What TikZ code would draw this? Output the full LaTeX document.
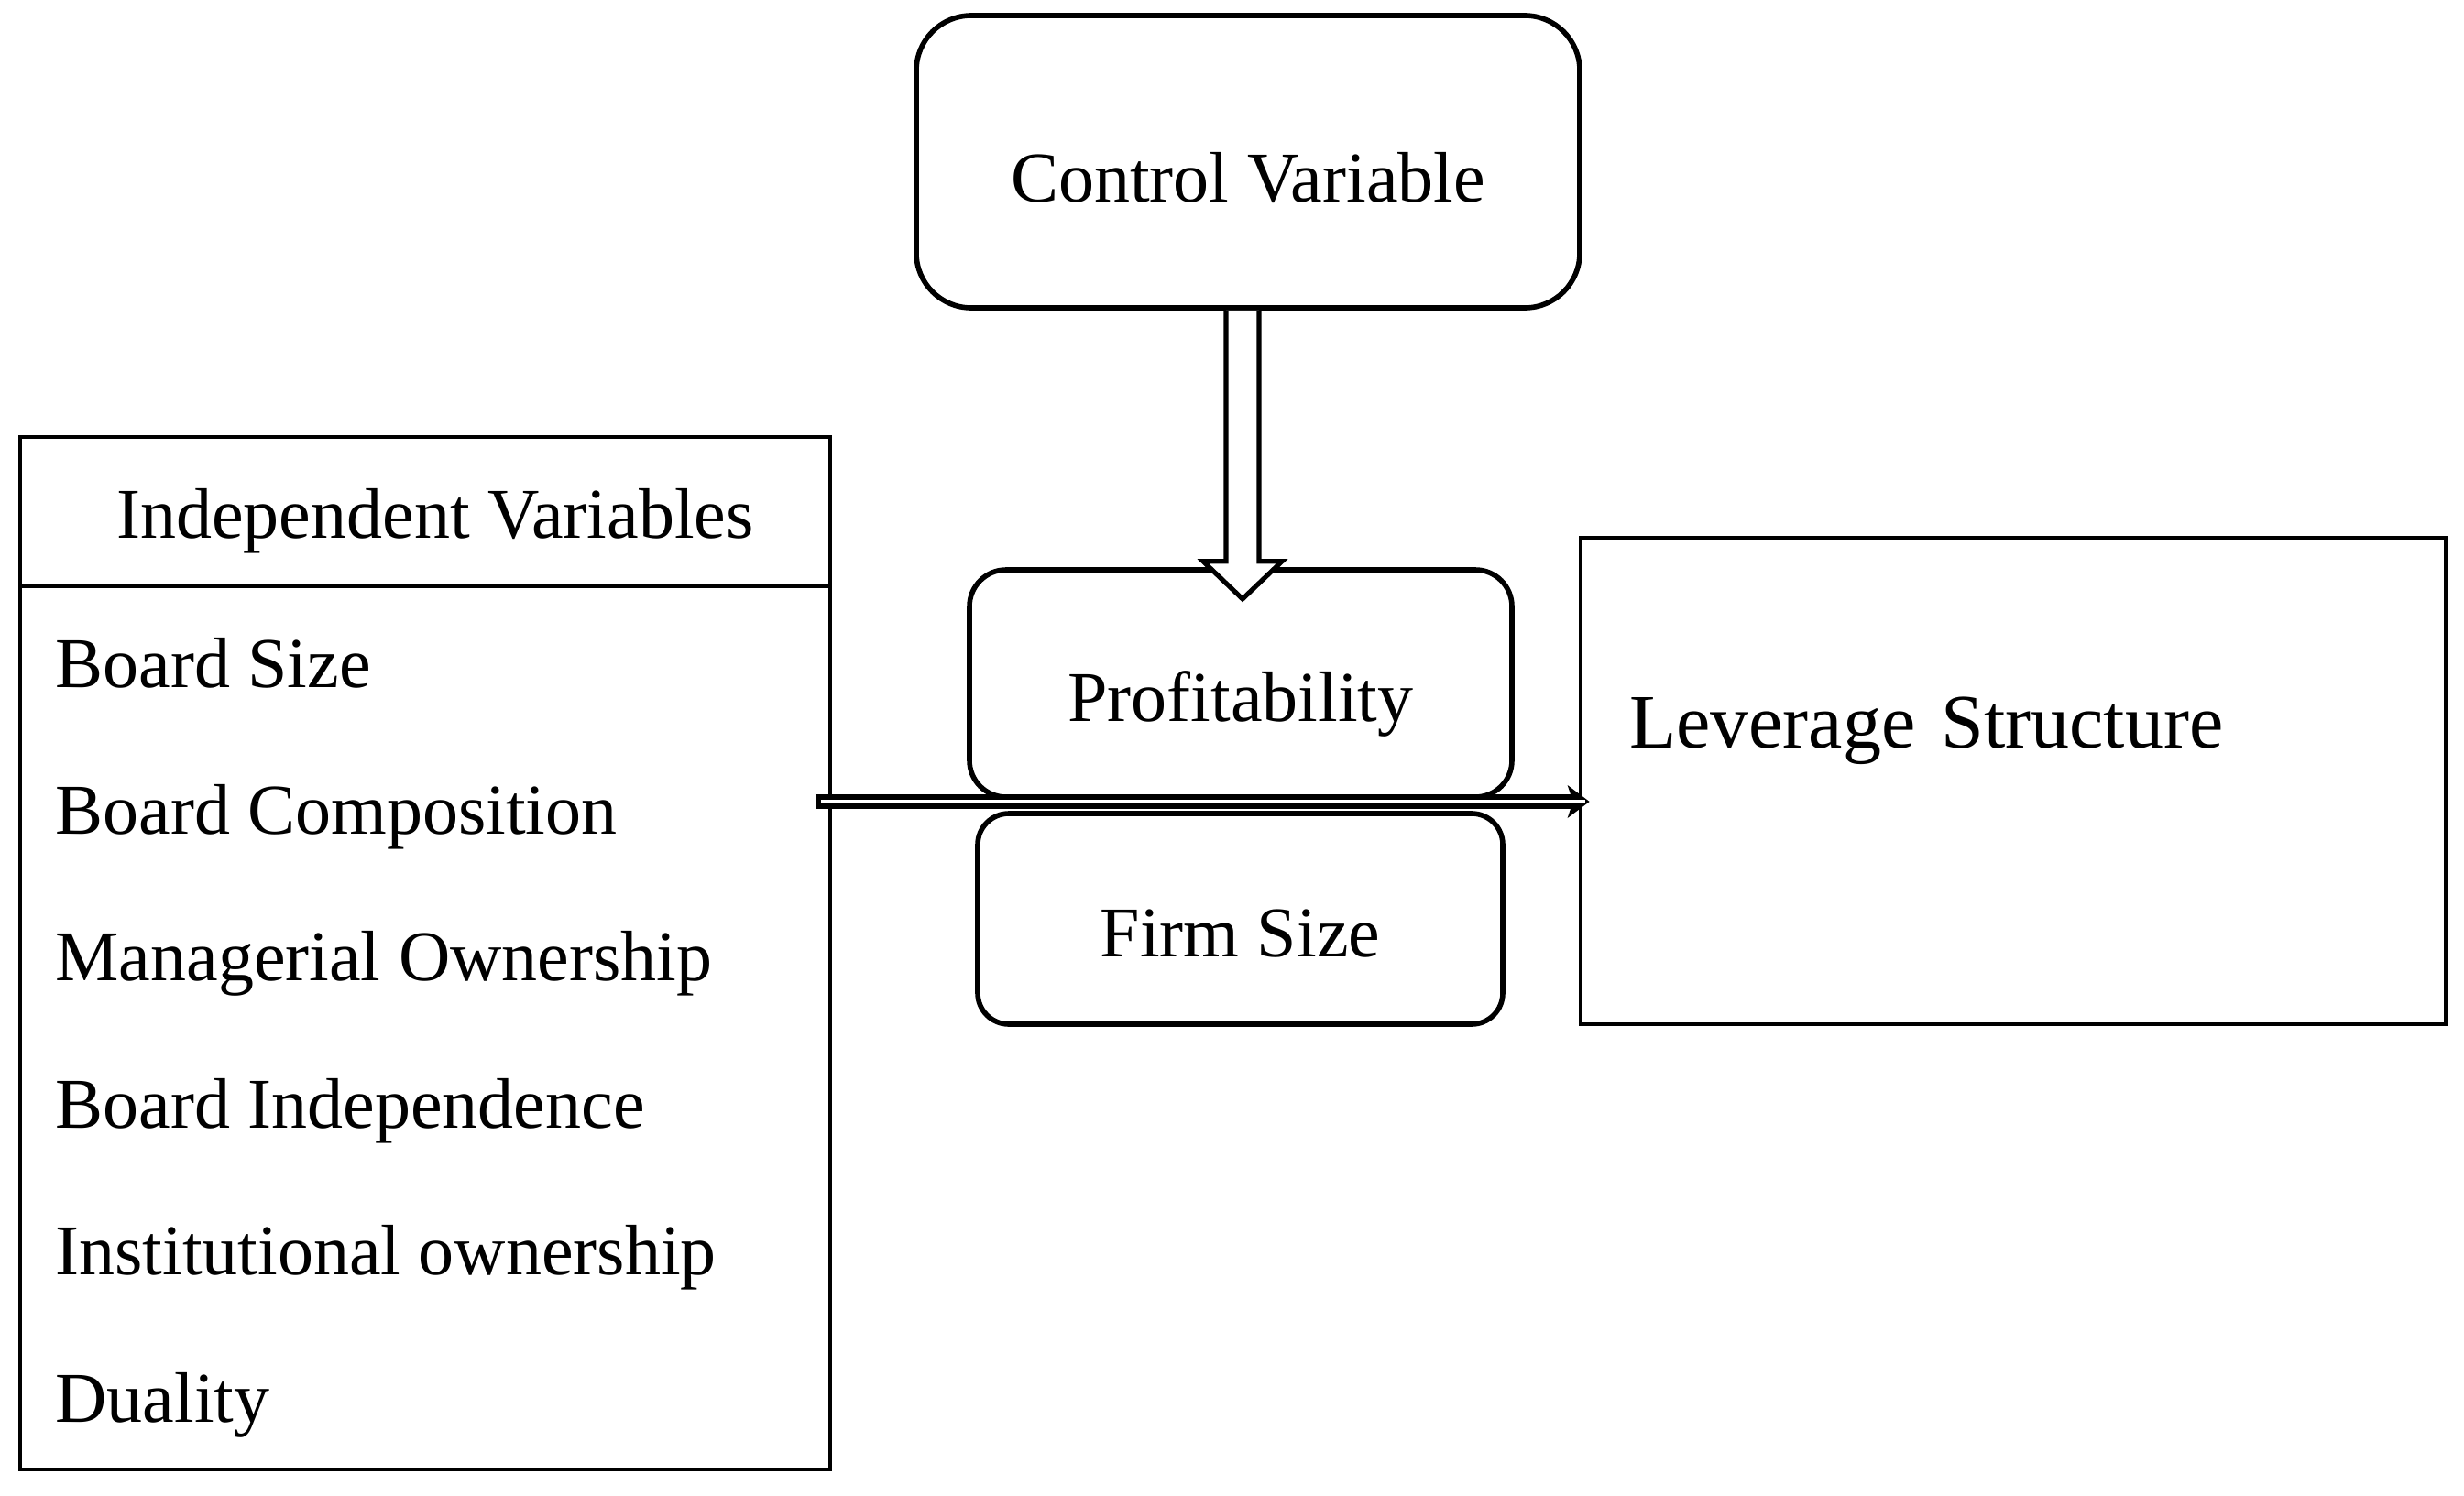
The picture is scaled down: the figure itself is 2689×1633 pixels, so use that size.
\documentclass[tikz,border=0pt]{standalone}
\usepackage{fontspec}
\setmainfont{Liberation Serif}
\usetikzlibrary{calc}
\begin{document}
\begin{tikzpicture}[x=0.5pt,y=-0.5pt,
  txt/.style={font=\fontsize{39}{47}\selectfont},
  rbox/.style={draw, line width=2.8pt, inner sep=0pt, txt, text depth=0pt},
  sbox/.style={draw, line width=2.4pt, inner sep=0pt},
  item/.style={txt, anchor=base west, inner sep=0pt},
  hollow/.style={draw, line width=2.6pt, fill=white, line join=miter}]
\useasboundingbox (0,0) rectangle (2689,1633);

% boxes
\node[rbox, rounded corners=30pt, minimum width=362pt, minimum height=159.5pt, text height=44pt] (ctrl) at (1362,176.5) {Control Variable};
\node[rbox, rounded corners=20pt, minimum width=296pt, minimum height=124pt, text height=41pt] (prof) at (1354,746) {Profitability};
\node[rbox, rounded corners=17pt, minimum width=286.5pt, minimum height=115pt, text height=41pt] (firm) at (1353.5,1003) {Firm Size};
\node[sbox, minimum width=472pt, minimum height=265.5pt, inner xsep=26.5pt, text width=419pt, align=left,
      font=\fontsize{42}{50}\selectfont, text height=10pt, text depth=46pt] (lev) at (2197,852.5) {Leverage Structure};

\node[sbox, line width=1.8pt, minimum width=442pt, minimum height=563.5pt] (ind) at (464,1040.5) {};
\node[txt, anchor=base, inner sep=0pt] (indh) at (475,587) {Independent Variables};
\draw[line width=1.8pt] (ind.west |- 0,640) -- (ind.east |- 0,640);

\node[item] (i1) at (60,750) {Board Size};
\node[item] (i2) at (60,910.4) {Board Composition};
\node[item] (i3) at (60,1070.8) {Managerial Ownership};
\node[item] (i4) at (60,1231.2) {Board Independence};
\node[item] (i5) at (60,1391.6) {Institutional ownership};
\node[item] (i6) at (60,1552) {Duality};

% hollow arrow from control variable to profitability
\coordinate (cs) at ($(ctrl.south)+(-6,0)$);
\draw[hollow] ($(cs)+(-18,0)$) -- ++(0,274) -- ++(-25,0)
  -- ($(cs)+(0,315)$) -- ($(cs)+(43,274)$) -- ++(-25,0) -- ($(cs)+(18,0)$);

% horizontal double arrow
\coordinate (hs) at ($(ind.east |- 0,875)+(-18,0)$);
\coordinate (ht) at ($(lev.west |- 0,875)+(12,0)$);
\draw[line width=8pt] (hs) -- ($(ht)+(-10,0)$);
\draw[white, line width=2.4pt] ($(hs)+(6,0)$) -- ($(ht)+(-6,0)$);
\fill (ht) -- ++(-24,-18) -- ++(6,18) -- ++(-6,18) -- cycle;
\draw[white, line width=2.4pt] ($(ht)+(-22,0)$) -- ($(ht)+(-5,0)$);
\end{tikzpicture}
\end{document}
